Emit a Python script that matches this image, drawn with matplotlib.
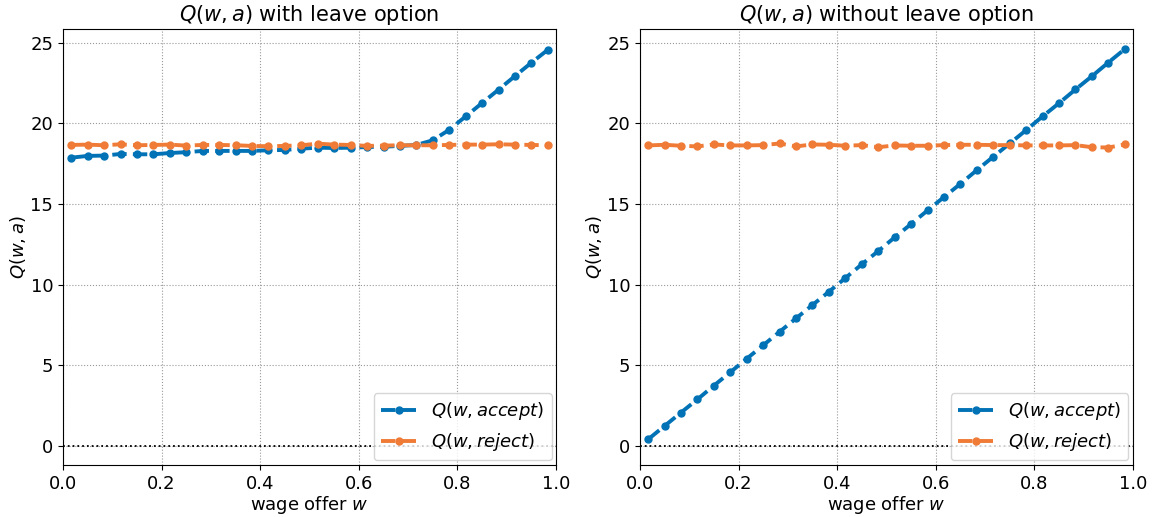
import numpy as np
import matplotlib.pyplot as plt

# wage grid (30 midpoints on [0, 1])
w = [(i + 0.5) / 30 for i in range(30)]

# Q-values with the option to leave the job
q_accept_leave = [17.87, 17.98, 18.00, 18.10, 18.08, 18.08, 18.16, 18.21, 18.29, 18.29,
                  18.29, 18.29, 18.33, 18.35, 18.43, 18.49, 18.47, 18.49, 18.53, 18.55,
                  18.60, 18.66, 18.95, 19.60, 20.43, 21.26, 22.09, 22.93, 23.76, 24.56]
q_reject_leave = [18.66, 18.68, 18.64, 18.70, 18.64, 18.66, 18.68, 18.62, 18.66, 18.66,
                  18.64, 18.60, 18.58, 18.60, 18.64, 18.74, 18.68, 18.66, 18.60, 18.62,
                  18.64, 18.64, 18.64, 18.66, 18.68, 18.68, 18.70, 18.68, 18.66, 18.64]

# Q-values without the leave option
q_accept_stay = [0.41, 1.24, 2.07, 2.89, 3.74, 4.57, 5.41, 6.24, 7.08, 7.91,
                 8.74, 9.56, 10.41, 11.26, 12.08, 12.93, 13.76, 14.60, 15.43, 16.25,
                 17.10, 17.93, 18.75, 19.58, 20.43, 21.25, 22.10, 22.92, 23.77, 24.60]
q_reject_stay = [18.63, 18.67, 18.61, 18.57, 18.69, 18.63, 18.63, 18.65, 18.75, 18.57,
                 18.69, 18.67, 18.61, 18.65, 18.52, 18.63, 18.61, 18.61, 18.65, 18.67,
                 18.67, 18.65, 18.65, 18.63, 18.63, 18.63, 18.65, 18.52, 18.50, 18.69]

titles = [r'$Q(w,a)$ with leave option', r'$Q(w,a)$ without leave option']
series = [(q_accept_leave, q_reject_leave), (q_accept_stay, q_reject_stay)]

blue = '#0072b5'
orange = '#ef7b37'

fig, axes = plt.subplots(1, 2, figsize=(11.54, 5.17), dpi=100)
fig.subplots_adjust(left=0.0546, right=0.9818, bottom=0.1006, top=0.944, wspace=0.17)

for ax, title, (qa, qr) in zip(axes, titles, series):
    ax.plot(w, qa, '--o', color=blue, lw=2.8, ms=5, label=r'$Q(w,accept)$')
    ax.plot(w, qr, '--o', color=orange, lw=2.8, ms=5, label=r'$Q(w,reject)$')
    ax.axhline(0, color='k', ls=':', lw=1.3)
    ax.set_xlim(0, 1)
    ax.set_ylim(-1.18, 25.85)
    ax.set_title(title, fontsize=15)
    ax.set_xlabel(r'wage offer $w$', fontsize=13, labelpad=1)
    ax.set_ylabel(r'$Q(w,a)$', fontsize=13, labelpad=2)
    ax.tick_params(labelsize=13)
    ax.grid(True, color='#999999', ls=':', lw=0.8)
    ax.legend(loc='lower right', fontsize=13, borderaxespad=0.25)

plt.savefig('out.png', dpi=100)
plt.close()
